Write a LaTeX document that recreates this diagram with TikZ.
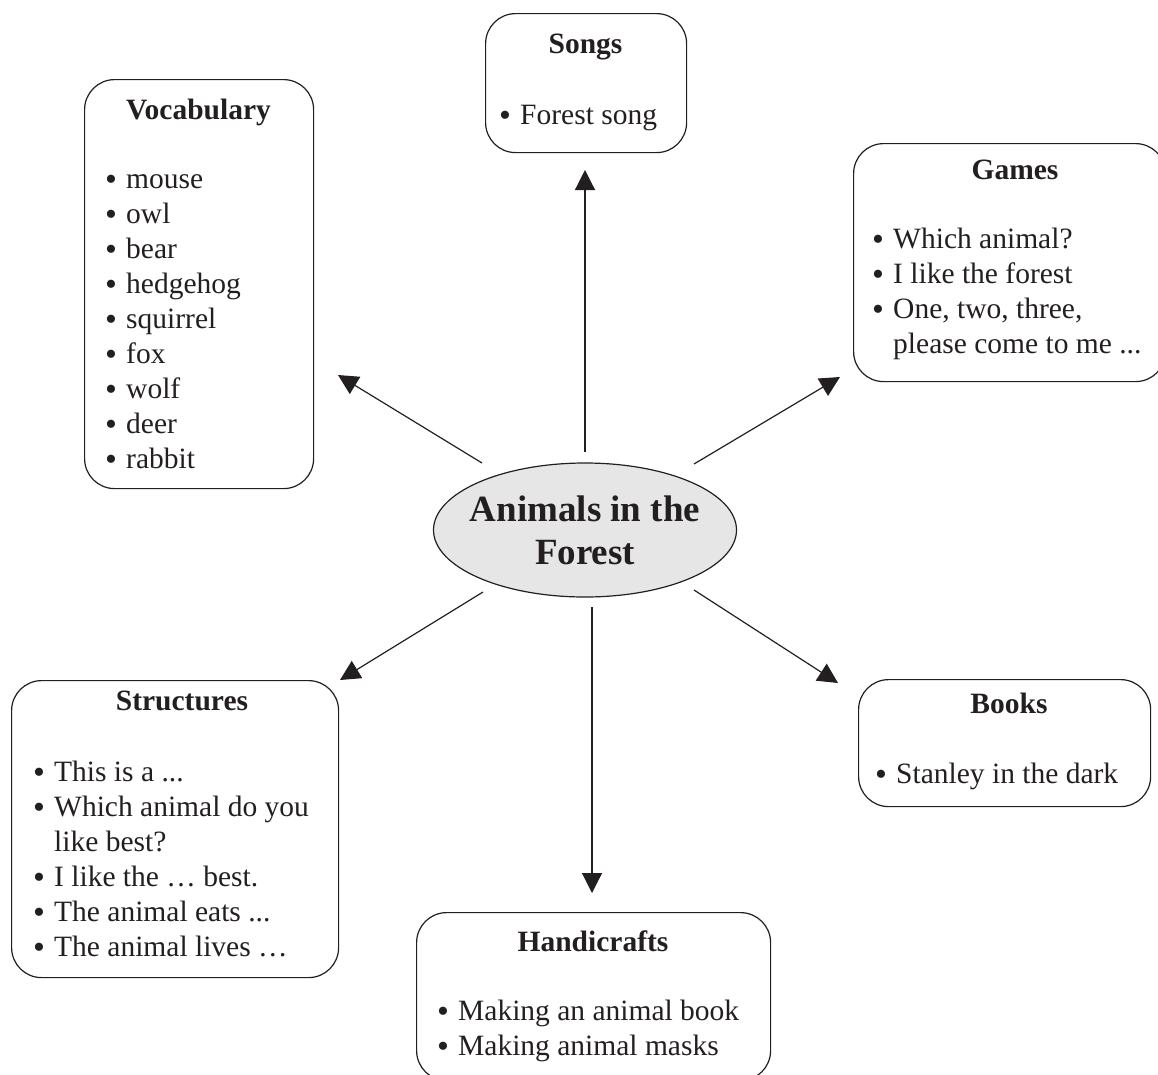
\documentclass[tikz,border=0pt]{standalone}
\usepackage{fontspec}
\setmainfont{Liberation Serif}
\usetikzlibrary{arrows.meta,shapes.geometric}
\definecolor{ink}{HTML}{231F20}
\definecolor{ellfill}{HTML}{E6E6E6}
\newcommand{\bul}{\makebox[21pt][l]{\raisebox{-2pt}{\scalebox{1.15}{•}}}}
\begin{document}
\begin{tikzpicture}[x=1pt,y=-1pt,
  box/.style={draw=ink, line width=1.2pt, rounded corners=30pt, anchor=north west, inner sep=0pt},
  ttl/.style={font=\fontsize{29.5}{35}\selectfont\bfseries, text=ink, inner sep=0pt, anchor=base},
  lst/.style={font=\fontsize{29.5}{35}\selectfont, text=ink, inner sep=0pt, anchor=base west},
  arr/.style={draw=ink, line width=1.2pt, -{Triangle[length=20pt,width=20pt]}}]
\useasboundingbox (0,0) rectangle (1158,1074);

% central ellipse
\node[ellipse, draw=ink, fill=ellfill, line width=1.2pt, minimum width=303pt, minimum height=134pt, inner sep=0pt] (c) at (585,530) {};
\node[font=\fontsize{37}{43}\selectfont\bfseries, text=ink, align=center, inner sep=0pt] (ct) at (c.center) {Animals in the\\Forest};

% Songs
\node[box, minimum width=201pt, minimum height=139pt] (songs) at (485,13) {};
\node[ttl] (songsT) at (585.5,53) {Songs};
\node[lst] (songsL) at (499,124) {\begin{tabular}[t]{@{}l@{}l@{}}\bul&Forest song\end{tabular}};

% Vocabulary
\node[box, minimum width=229pt, minimum height=409pt] (voc) at (84,79) {};
\node[ttl] (vocT) at (198.5,119) {Vocabulary};
\node[lst] (vocL) at (105,188) {\begin{tabular}[t]{@{}l@{}l@{}}
\bul&mouse\\ \bul&owl\\ \bul&bear\\ \bul&hedgehog\\ \bul&squirrel\\ \bul&fox\\ \bul&wolf\\ \bul&deer\\ \bul&rabbit\end{tabular}};

% Games
\node[box, minimum width=312pt, minimum height=238pt] (games) at (853,143) {};
\node[ttl] (gamesT) at (1015,179) {Games};
\node[lst] (gamesL) at (872,248) {\begin{tabular}[t]{@{}l@{}l@{}}
\bul&Which animal?\\ \bul&I like the forest\\ \bul&One, two, three,\\ &please come to me ...\end{tabular}};

% Structures
\node[box, minimum width=327pt, minimum height=297pt] (struct) at (11,680) {};
\node[ttl] (structT) at (182,710) {Structures};
\node[lst] (structL) at (33,781) {\begin{tabular}[t]{@{}l@{}l@{}}
\bul&This is a ...\\ \bul&Which animal do you\\ &like best?\\ \bul&I like the … best.\\ \bul&The animal eats ...\\ \bul&The animal lives …\end{tabular}};

% Books
\node[box, minimum width=292pt, minimum height=127pt] (books) at (858,679) {};
\node[ttl] (booksT) at (1009,713) {Books};
\node[lst] (booksL) at (875,783) {\begin{tabular}[t]{@{}l@{}l@{}}\bul&Stanley in the dark\end{tabular}};

% Handicrafts
\node[box, minimum width=354pt, minimum height=168pt] (hand) at (416,912) {};
\node[ttl] (handT) at (593,951) {Handicrafts};
\node[lst] (handL) at (437,1020) {\begin{tabular}[t]{@{}l@{}l@{}}
\bul&Making an animal book\\ \bul&Making animal masks\end{tabular}};

% arrow end points
\coordinate (uS) at (585,452);   \coordinate (uE) at (585,170);
\coordinate (ulS) at (482,463);  \coordinate (ulE) at (338,375);
\coordinate (urS) at (694,464);  \coordinate (urE) at (840,377);
\coordinate (llS) at (483,592);  \coordinate (llE) at (340,680);
\coordinate (lrS) at (694,590);  \coordinate (lrE) at (838,683);
\coordinate (dS) at (592,607);   \coordinate (dE) at (592,893);

\draw[arr] (uS) -- (uE);
\draw[arr] (ulS) -- (ulE);
\draw[arr] (urS) -- (urE);
\draw[arr] (llS) -- (llE);
\draw[arr] (lrS) -- (lrE);
\draw[arr] (dS) -- (dE);
\end{tikzpicture}
\end{document}
